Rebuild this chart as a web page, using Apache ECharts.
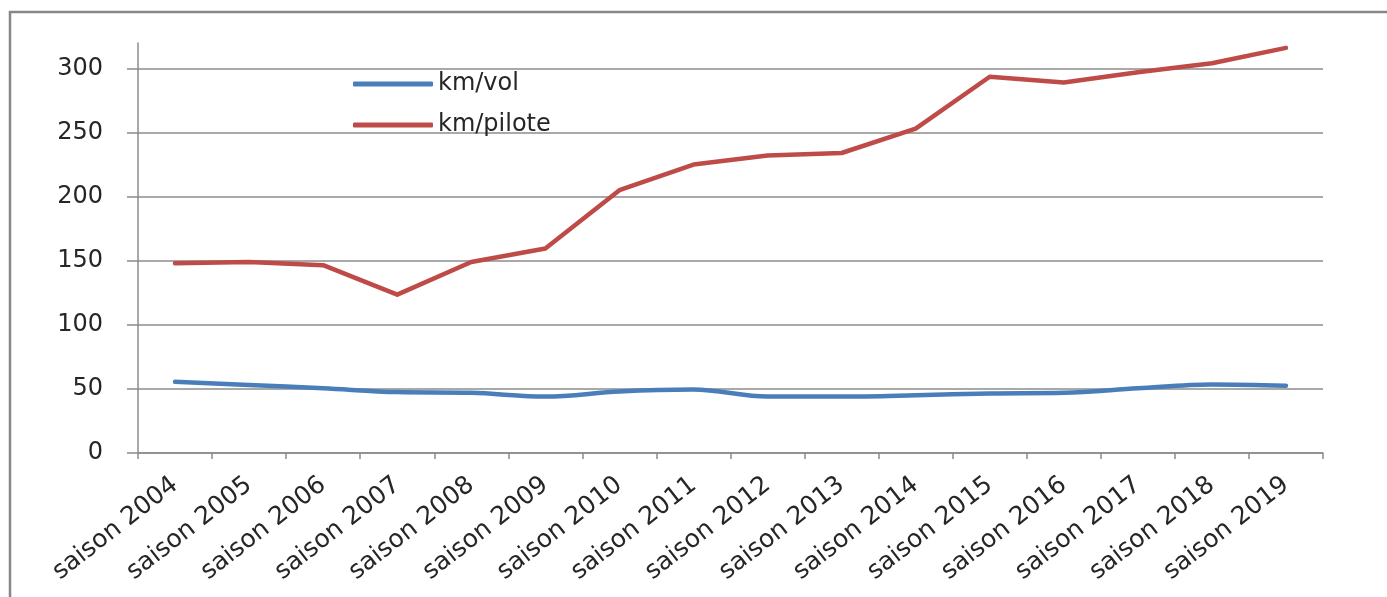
<!DOCTYPE html>
<html>
<head>
<meta charset="utf-8">
<script src="https://cdn.jsdelivr.net/npm/echarts@6/dist/echarts.min.js"></script>
<style>
  html, body { margin: 0; padding: 0; background: #ffffff; }
  #chart { width: 1387px; height: 597px; }
</style>
</head>
<body>
<div id="chart"></div>
<script>
const categories = ['saison 2004', 'saison 2005', 'saison 2006', 'saison 2007', 'saison 2008', 'saison 2009', 'saison 2010', 'saison 2011', 'saison 2012', 'saison 2013', 'saison 2014', 'saison 2015', 'saison 2016', 'saison 2017', 'saison 2018', 'saison 2019'];
const kmVol = [55.5, 53, 50.5, 47.5, 47, 44, 48, 49.5, 44, 44, 45, 46.5, 47, 50.5, 53.5, 52.5];
const kmPilote = [148, 149, 146.5, 123.5, 149, 159.5, 205, 225, 232, 234, 253, 293.5, 289, 297, 304, 316];
const yTicks = [0, 50, 100, 150, 200, 250, 300];
const seriesNames = ['km/vol', 'km/pilote'];

const gray = '#8c8c8c';
const chart = echarts.init(document.getElementById('chart'), null, { renderer: 'canvas' });
chart.setOption({
  animation: false,
  backgroundColor: '#ffffff',
  textStyle: { fontFamily: 'DejaVu Sans' },
  graphic: [{
    type: 'rect',
    shape: { x: 10, y: 12, width: 1500, height: 700 },
    style: { fill: 'none', stroke: '#878787', lineWidth: 2.5 },
    silent: true
  }],
  grid: { left: 138, right: 64, top: 43, bottom: 144 },
  legend: {
    orient: 'vertical',
    left: 348,
    top: 66,
    icon: 'roundRect',
    itemWidth: 80,
    itemHeight: 5,
    itemGap: 15,
    textStyle: { fontSize: 24, color: '#262626', lineHeight: 26, fontFamily: 'DejaVu Sans' },
    data: seriesNames
  },
  xAxis: {
    type: 'category',
    data: categories,
    boundaryGap: true,
    axisLine: { lineStyle: { color: gray, width: 1.5 } },
    axisTick: { show: true, length: 6, alignWithLabel: false, lineStyle: { color: gray, width: 1.5 } },
    axisLabel: { rotate: 38, fontSize: 25, color: '#262626', margin: 29, interval: 0, fontFamily: 'DejaVu Sans' },
    splitLine: { show: false }
  },
  yAxis: {
    type: 'value',
    min: 0,
    max: 319.8,
    axisLine: { show: true, lineStyle: { color: gray, width: 1.5 } },
    axisTick: { show: true, length: 11, customValues: yTicks, lineStyle: { color: gray, width: 1.5 } },
    axisLabel: { fontSize: 24, color: '#262626', margin: 35, customValues: yTicks, fontFamily: 'DejaVu Sans' },
    splitLine: { show: true, lineStyle: { color: gray, width: 1.5 } }
  },
  series: [
    {
      name: seriesNames[0],
      type: 'line',
      data: kmVol,
      smooth: 0.35,
      symbol: 'none',
      lineStyle: { color: '#4a7ebb', width: 4.5, cap: 'round', join: 'round' },
      itemStyle: { color: '#4a7ebb' }
    },
    {
      name: seriesNames[1],
      type: 'line',
      data: kmPilote,
      smooth: false,
      symbol: 'none',
      lineStyle: { color: '#be4b48', width: 4.5, cap: 'round', join: 'round' },
      itemStyle: { color: '#be4b48' }
    }
  ]
});
</script>
</body>
</html>
